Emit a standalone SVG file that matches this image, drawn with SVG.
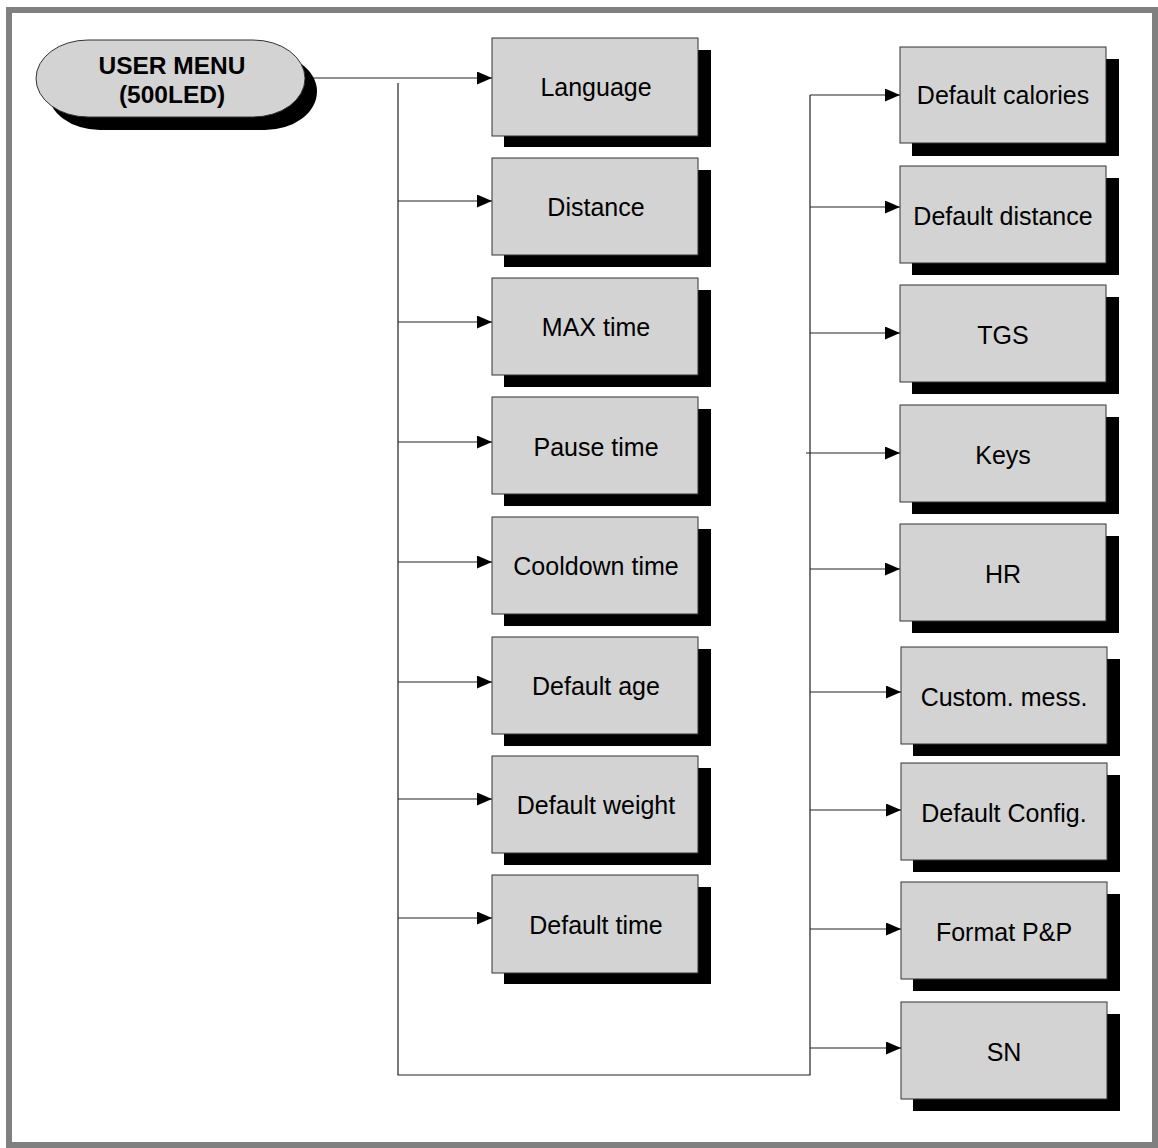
<svg xmlns="http://www.w3.org/2000/svg" width="1158" height="1148" viewBox="0 0 1158 1148">
<defs>
<style>
.box{fill:#d3d3d3;stroke:#333;stroke-width:1}
.sh{fill:#000}
.lbl{font-family:"Liberation Sans",Arial,sans-serif;font-size:25px;fill:#000;text-anchor:middle}
.ttl{font-family:"Liberation Sans",Arial,sans-serif;font-size:24.5px;font-weight:bold;fill:#000;text-anchor:middle}
.ln{fill:none;stroke:#222;stroke-width:1.2}
</style>
<marker id="ah" viewBox="0 0 15 13" refX="15" refY="6.5" markerWidth="15" markerHeight="13" markerUnits="userSpaceOnUse" orient="auto">
<path d="M0,0 L15,6.5 L0,13 Z" fill="#000"/>
</marker>
</defs>
<rect x="9" y="10" width="1146" height="1135" fill="#fff" stroke="#808080" stroke-width="6"/>

<g id="connectors">
<path class="ln" d="M305,78 H492" marker-end="url(#ah)"/>
<path class="ln" d="M398,83 V1075 H810 V95"/>
<path class="ln" d="M398,201 H492" marker-end="url(#ah)"/>
<path class="ln" d="M398,322 H492" marker-end="url(#ah)"/>
<path class="ln" d="M398,442 H492" marker-end="url(#ah)"/>
<path class="ln" d="M398,562 H492" marker-end="url(#ah)"/>
<path class="ln" d="M398,682 H492" marker-end="url(#ah)"/>
<path class="ln" d="M398,799 H492" marker-end="url(#ah)"/>
<path class="ln" d="M398,918 H492" marker-end="url(#ah)"/>
<path class="ln" d="M810,95 H900" marker-end="url(#ah)"/>
<path class="ln" d="M810,207 H900" marker-end="url(#ah)"/>
<path class="ln" d="M810,333 H900" marker-end="url(#ah)"/>
<path class="ln" d="M806,453 H900" marker-end="url(#ah)"/>
<path class="ln" d="M810,569 H900" marker-end="url(#ah)"/>
<path class="ln" d="M810,692 H901" marker-end="url(#ah)"/>
<path class="ln" d="M810,810 H901" marker-end="url(#ah)"/>
<path class="ln" d="M810,929 H901" marker-end="url(#ah)"/>
<path class="ln" d="M810,1048 H901" marker-end="url(#ah)"/>
</g>

<g id="user-menu">
<rect class="sh" x="48" y="53" width="269" height="77" rx="52" ry="38.5"/>
<rect class="box" x="36" y="40" width="269" height="77" rx="52" ry="38.5"/>
<text class="ttl" x="172" y="74">USER MENU</text>
<text class="ttl" x="172" y="103">(500LED)</text>
</g>

<g id="language"><rect class="sh" x="504" y="50" width="207" height="97"/><rect class="box" x="492" y="38" width="206" height="98"/><text class="lbl" x="596" y="96">Language</text></g>
<g id="distance"><rect class="sh" x="504" y="170" width="207" height="97"/><rect class="box" x="492" y="158" width="206" height="97"/><text class="lbl" x="596" y="216">Distance</text></g>
<g id="max-time"><rect class="sh" x="504" y="290" width="207" height="97"/><rect class="box" x="492" y="278" width="206" height="97"/><text class="lbl" x="596" y="336">MAX time</text></g>
<g id="pause-time"><rect class="sh" x="504" y="409" width="207" height="97"/><rect class="box" x="492" y="397" width="206" height="97"/><text class="lbl" x="596" y="456">Pause time</text></g>
<g id="cooldown-time"><rect class="sh" x="504" y="529" width="207" height="97"/><rect class="box" x="492" y="517" width="206" height="97"/><text class="lbl" x="596" y="575">Cooldown time</text></g>
<g id="default-age"><rect class="sh" x="504" y="649" width="207" height="97"/><rect class="box" x="492" y="637" width="206" height="97"/><text class="lbl" x="596" y="695">Default age</text></g>
<g id="default-weight"><rect class="sh" x="504" y="768" width="207" height="97"/><rect class="box" x="492" y="756" width="206" height="97"/><text class="lbl" x="596" y="814">Default weight</text></g>
<g id="default-time"><rect class="sh" x="504" y="887" width="207" height="97"/><rect class="box" x="492" y="875" width="206" height="98"/><text class="lbl" x="596" y="934">Default time</text></g>

<g id="default-calories"><rect class="sh" x="912" y="59" width="207" height="97"/><rect class="box" x="900" y="47" width="206" height="96"/><text class="lbl" x="1003" y="104">Default calories</text></g>
<g id="default-distance"><rect class="sh" x="912" y="178" width="207" height="97"/><rect class="box" x="900" y="166" width="206" height="97"/><text class="lbl" x="1003" y="225">Default distance</text></g>
<g id="tgs"><rect class="sh" x="912" y="297" width="207" height="97"/><rect class="box" x="900" y="285" width="206" height="97"/><text class="lbl" x="1003" y="344">TGS</text></g>
<g id="keys"><rect class="sh" x="912" y="417" width="207" height="97"/><rect class="box" x="900" y="405" width="206" height="97"/><text class="lbl" x="1003" y="464">Keys</text></g>
<g id="hr"><rect class="sh" x="912" y="536" width="207" height="97"/><rect class="box" x="900" y="524" width="206" height="97"/><text class="lbl" x="1003" y="583">HR</text></g>
<g id="custom-mess"><rect class="sh" x="913" y="659" width="207" height="97"/><rect class="box" x="901" y="647" width="206" height="97"/><text class="lbl" x="1004" y="706">Custom. mess.</text></g>
<g id="default-config"><rect class="sh" x="913" y="775" width="207" height="97"/><rect class="box" x="901" y="763" width="206" height="97"/><text class="lbl" x="1004" y="822">Default Config.</text></g>
<g id="format-pp"><rect class="sh" x="913" y="894" width="207" height="97"/><rect class="box" x="901" y="882" width="206" height="97"/><text class="lbl" x="1004" y="941">Format P&amp;P</text></g>
<g id="sn"><rect class="sh" x="913" y="1014" width="207" height="97"/><rect class="box" x="901" y="1002" width="206" height="97"/><text class="lbl" x="1004" y="1061">SN</text></g>
</svg>
